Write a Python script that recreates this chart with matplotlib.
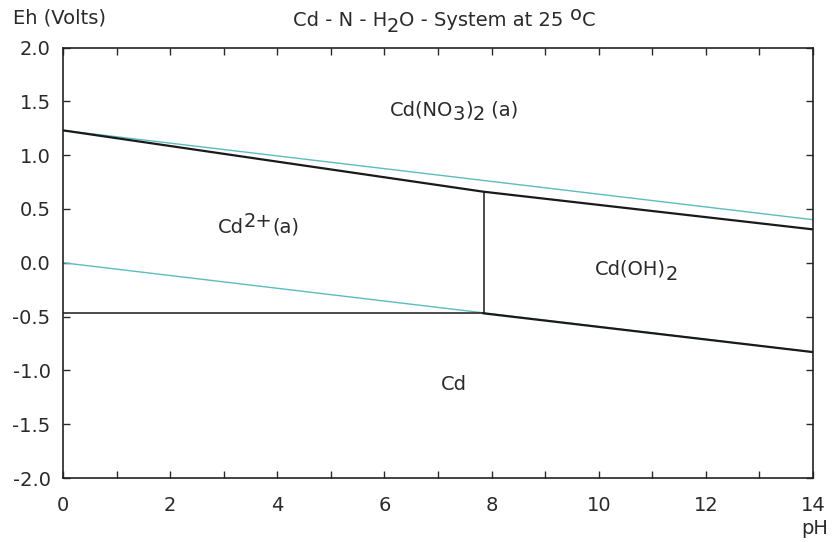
import matplotlib
matplotlib.use("Agg")
import matplotlib.pyplot as plt

plt.rcParams['font.family'] = ['DejaVu Sans']

# Boundary data (pH, Eh)
upper_black_pH = [0, 7.85, 14]
upper_black_Eh = [1.23, 0.66, 0.31]
lower_black_pH = [0, 7.85, 14]
lower_black_Eh = [-0.47, -0.47, -0.83]
vert_pH = [7.85, 7.85]
vert_Eh = [-0.47, 0.66]
water_o2_pH = [0, 14]
water_o2_Eh = [1.23, 0.40]
water_h2_pH = [0, 14]
water_h2_Eh = [0.0, -0.83]

# region labels: (pH, Eh, segments)
labels = [
    (7.3, 1.42, [("Cd(NO", 'n'), ("3", 'sub'), (")", 'n'), ("2", 'sub'), ("\u00a0(a)", 'n')]),
    (3.65, 0.33, [("Cd", 'n'), ("2+", 'sup'), ("(a)", 'n')]),
    (10.7, -0.06, [("Cd(OH)", 'n'), ("2", 'sub')]),
    (7.3, -1.13, [("Cd", 'n')]),
]
title_segs = [("Cd - N - H", 'n'), ("2", 'sub'), ("O - System at 25\u00a0", 'n'),
              ("o", 'sup'), ("C", 'n')]

FS = 14
TXT = '#2a2a2a'

fig = plt.figure(figsize=(8.34, 5.42), dpi=100)
ax = fig.add_axes([63/834, 1-478/542, (813-63)/834, (478-47.5)/542])

cyan = '#5cbcbc'
ax.plot(water_o2_pH, water_o2_Eh, color=cyan, lw=1.0, zorder=2)
ax.plot(water_h2_pH, water_h2_Eh, color=cyan, lw=1.0, zorder=2)
ax.plot(upper_black_pH, upper_black_Eh, color='#1a1a1a', lw=1.6, zorder=3)
ax.plot(lower_black_pH[:2], lower_black_Eh[:2], color='#1a1a1a', lw=1.1, zorder=3)
ax.plot(lower_black_pH[1:], lower_black_Eh[1:], color='#1a1a1a', lw=1.6, zorder=3)
ax.plot(vert_pH, vert_Eh, color='#1a1a1a', lw=1.1, zorder=3)

ax.set_xlim(0, 14)
ax.set_ylim(-2, 2)
ax.set_xticks(range(0, 15))
ax.set_xticklabels([str(i) if i % 2 == 0 else '' for i in range(0, 15)])
yt = [-2.0, -1.5, -1.0, -0.5, 0.0, 0.5, 1.0, 1.5, 2.0]
ax.set_yticks(yt)
ax.set_yticklabels([f"{v:.1f}" for v in yt])
ax.tick_params(direction='in', length=5, width=1, top=True, right=True,
               labelsize=FS, colors=TXT)
ax.tick_params(axis='x', pad=13)
ax.tick_params(axis='y', pad=9)
for s in ax.spines.values():
    s.set_linewidth(1.2)
    s.set_color('#222222')

renderer = fig.canvas.get_renderer()
W, H = fig.bbox.width, fig.bbox.height


def rich(xpix, ypix, segs, ha='center'):
    """Draw text segments with near-full-size sub/superscripts; xpix/ypix in display px."""
    pieces = []
    total = 0.0
    for s, kind in segs:
        t = fig.text(0, 0, s, fontsize=FS)
        w = t.get_window_extent(renderer).width
        t.remove()
        pieces.append((s, kind, w))
        total += w
    x = xpix - total / 2 if ha == 'center' else xpix
    for s, kind, w in pieces:
        dy = {'n': 0, 'sub': -5, 'sup': 6}[kind]
        fig.text(x / W, (ypix + dy) / H, s, fontsize=FS, color=TXT,
                 ha='left', va='center')
        x += w


for px, eh, segs in labels:
    xd, yd = ax.transData.transform((px, eh))
    rich(xd, yd, segs)

rich(444, H - 21, title_segs)
fig.text(13 / W, 1 - 18 / H, "Eh (Volts)", fontsize=FS, ha='left', va='center', color=TXT)
fig.text(815 / W, 1 - 528 / H, "pH", fontsize=FS, ha='center', va='center', color=TXT)

fig.savefig("out.png", dpi=100, facecolor='white')
